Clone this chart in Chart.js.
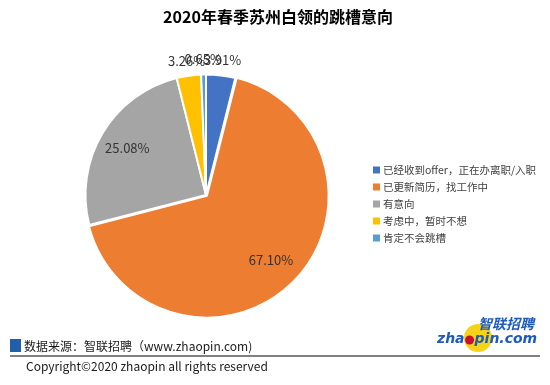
<!DOCTYPE html>
<html>
<head>
<meta charset="utf-8">
<script src="https://cdn.jsdelivr.net/npm/chart.js@4"></script>
<style>
  html, body { margin: 0; padding: 0; background: #ffffff; }
  #wrap { width: 550px; height: 385px; position: relative; }
</style>
</head>
<body>
<div id="wrap"><canvas id="chart" width="550" height="385"></canvas></div>
<script>
  const chartTitle = "2020年春季苏州白领的跳槽意向";
  const categories = [
    "已经收到offer，正在办离职/入职",
    "已更新简历，找工作中",
    "有意向",
    "考虑中，暂时不想",
    "肯定不会跳槽",
  ];
  const shares = [3.91, 67.10, 25.08, 3.26, 0.65];
  const sourceNote = "数据来源：智联招聘（www.zhaopin.com)";
  const copyrightNote = "Copyright©2020 zhaopin all rights reserved";

  const sliceColors = ["#4472C4", "#ED7D31", "#A5A5A5", "#FFC000", "#5B9BD5"];
  const sliceOffsets = [0, 5, 0, 0, 0];
  const textFont = "'Noto Sans CJK SC', 'Noto Sans', sans-serif";

  const pieLabels = {
    id: "pieLabels",
    afterDatasetsDraw(chart) {
      const ctx = chart.ctx;
      const meta = chart.getDatasetMeta(0);
      ctx.save();
      ctx.font = "13px " + textFont;
      ctx.fillStyle = "#333333";
      ctx.textAlign = "center";
      ctx.textBaseline = "middle";
      meta.data.forEach((arc, i) => {
        const p = arc.getProps(["x", "y", "startAngle", "endAngle", "outerRadius"], true);
        const mid = (p.startAngle + p.endAngle) / 2;
        const r = shares[i] < 5 ? p.outerRadius + 15 : p.outerRadius * 0.76;
        ctx.fillText(shares[i].toFixed(2) + "%", p.x + Math.cos(mid) * r, p.y + Math.sin(mid) * r);
      });
      ctx.restore();
    },
  };

  const sideLegend = {
    id: "sideLegend",
    afterDraw(chart) {
      const ctx = chart.ctx;
      ctx.save();
      ctx.font = "10.5px " + textFont;
      ctx.textBaseline = "middle";
      ctx.textAlign = "left";
      categories.forEach((name, i) => {
        const y = 170 + i * 17;
        ctx.fillStyle = sliceColors[i];
        ctx.fillRect(373, y - 3.5, 7, 7);
        ctx.fillStyle = "#404040";
        ctx.fillText(name, 383, y);
      });
      ctx.restore();
    },
  };

  const frame = {
    id: "frame",
    afterDraw(chart) {
      const ctx = chart.ctx;
      ctx.save();
      ctx.fillStyle = "#000000";
      ctx.font = "bold 16px " + textFont;
      ctx.textAlign = "center";
      ctx.textBaseline = "middle";
      ctx.fillText(chartTitle, 278, 17);

      ctx.textAlign = "left";
      ctx.fillStyle = "#1F5FAD";
      ctx.fillRect(10, 339, 11, 13);
      ctx.fillStyle = "#1a1a1a";
      ctx.font = "12px " + textFont;
      ctx.fillText(sourceNote, 24, 346);
      ctx.fillText(copyrightNote, 26, 366);

      ctx.strokeStyle = "#808080";
      ctx.lineWidth = 2;
      ctx.beginPath();
      ctx.moveTo(10, 356);
      ctx.lineTo(540, 356);
      ctx.stroke();

      // zhaopin logo
      ctx.fillStyle = "#F7D21A";
      ctx.beginPath();
      ctx.arc(478, 338, 14, 0, Math.PI * 2);
      ctx.fill();
      ctx.fillStyle = "#1E5BB8";
      ctx.font = "italic bold 14px " + textFont;
      ctx.fillText("智联招聘", 478, 324);
      ctx.font = "italic bold 14px 'DejaVu Sans', sans-serif";
      ctx.fillText("zha", 437, 339);
      const zhaW = ctx.measureText("zha").width;
      ctx.fillText("pin.com", 437 + zhaW + 10, 339);
      ctx.fillStyle = "#C8102E";
      ctx.beginPath();
      ctx.arc(437 + zhaW + 5, 340, 4.5, 0, Math.PI * 2);
      ctx.fill();
      ctx.restore();
    },
  };

  new Chart(document.getElementById("chart"), {
    type: "pie",
    data: {
      labels: categories,
      datasets: [{
        data: shares,
        backgroundColor: sliceColors,
        borderColor: "#ffffff",
        borderWidth: 2,
        offset: sliceOffsets,
      }],
    },
    options: {
      responsive: false,
      animation: false,
      layout: { padding: { top: 71, left: 20, right: 158, bottom: 66 } },
      plugins: {
        legend: { display: false },
        tooltip: { enabled: false },
        title: { display: false },
      },
    },
    plugins: [pieLabels, sideLegend, frame],
  });
</script>
</body>
</html>
